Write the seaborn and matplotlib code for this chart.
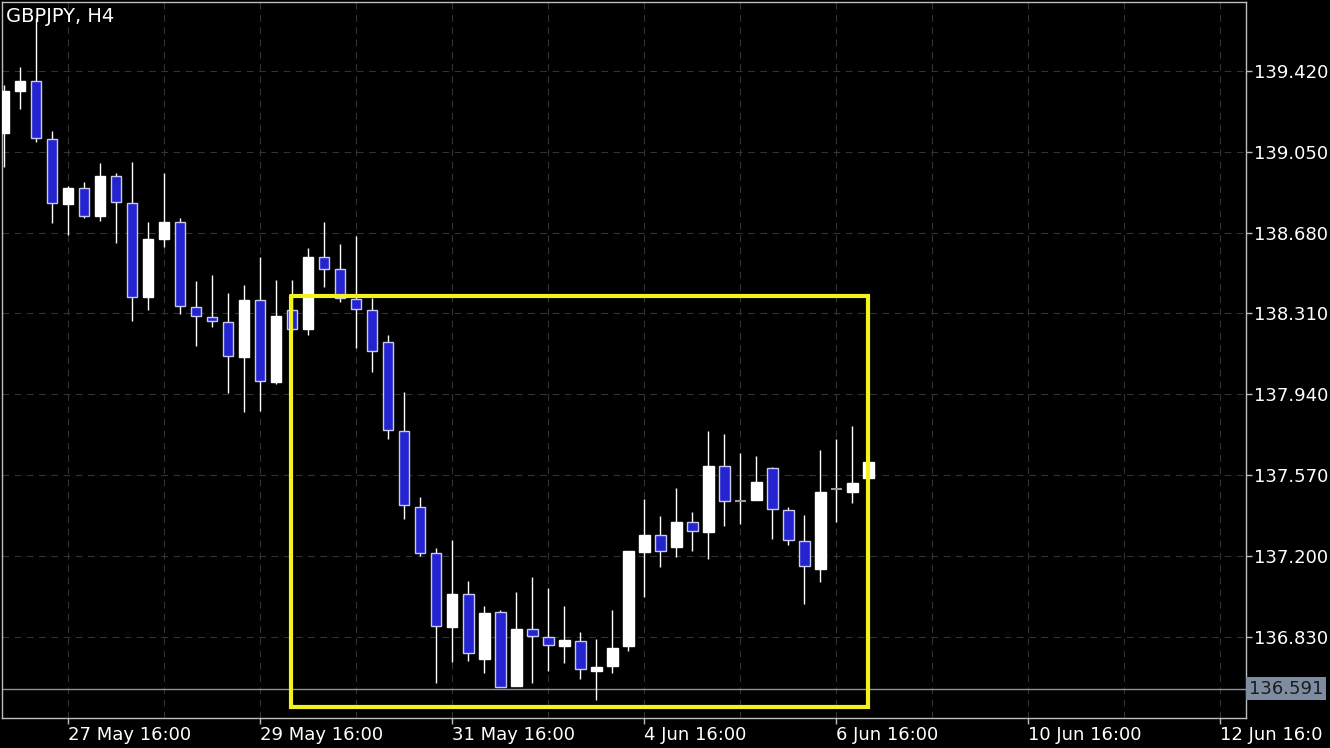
import numpy as np
import pandas as pd
import seaborn as sns
import matplotlib
matplotlib.use("Agg")
import matplotlib.pyplot as plt
from matplotlib.ticker import MultipleLocator, FixedLocator
import matplotlib.transforms as mtransforms

# GBPJPY H4 bars (index 0 = 27 May 00:00)
opens = [139.136, 139.328, 139.374, 139.109, 138.811, 138.884, 138.756, 138.939, 138.816, 138.385,
         138.651, 138.729, 138.339, 138.294, 138.271, 138.110, 138.371, 137.996, 138.326, 138.239,
         138.568, 138.513, 138.376, 138.326, 138.179, 137.772, 137.424, 137.213, 136.874, 137.025,
         136.728, 136.943, 136.604, 136.865, 136.828, 136.787, 136.810, 136.673, 136.696, 136.787,
         137.218, 137.295, 137.240, 137.355, 137.309, 137.611, 137.451, 137.456, 137.602, 137.410,
         137.268, 137.140, 137.506, 137.492, 137.556]
highs = [139.356, 139.438, 139.663, 139.145, 138.893, 138.912, 138.999, 138.953, 139.003, 138.729,
         138.953, 138.747, 138.458, 138.486, 138.403, 138.440, 138.568, 138.463, 138.463, 138.610,
         138.729, 138.628, 138.664, 138.381, 138.211, 137.950, 137.469, 137.236, 137.273, 137.085,
         136.970, 136.952, 137.034, 137.103, 137.053, 136.970, 136.851, 136.819, 136.952, 137.222,
         137.460, 137.382, 137.511, 137.401, 137.772, 137.758, 137.671, 137.657, 137.607, 137.424,
         137.387, 137.685, 137.735, 137.794, 137.648]
lows = [138.980, 139.246, 139.095, 138.724, 138.669, 138.747, 138.733, 138.632, 138.275, 138.326,
        138.614, 138.307, 138.161, 138.248, 137.946, 137.859, 137.863, 137.987, 138.230, 138.211,
        138.431, 138.362, 138.152, 138.042, 137.735, 137.369, 137.199, 136.618, 136.714, 136.718,
        136.663, 136.599, 136.604, 136.618, 136.673, 136.709, 136.636, 136.540, 136.663, 136.764,
        137.012, 137.149, 137.195, 137.222, 137.186, 137.337, 137.346, 137.456, 137.277, 137.250,
        136.980, 137.080, 137.355, 137.442, 137.556]
closes = [139.328, 139.374, 139.113, 138.816, 138.884, 138.756, 138.939, 138.820, 138.385, 138.651,
          138.729, 138.344, 138.298, 138.275, 138.115, 138.371, 138.001, 138.298, 138.239, 138.568,
          138.513, 138.381, 138.330, 138.138, 137.776, 137.433, 137.213, 136.879, 137.025, 136.755,
          136.938, 136.599, 136.865, 136.833, 136.792, 136.815, 136.682, 136.691, 136.778, 137.222,
          137.295, 137.222, 137.355, 137.314, 137.611, 137.451, 137.451, 137.538, 137.414, 137.272,
          137.153, 137.492, 137.506, 137.534, 137.630]

price_ticks = [136.830, 137.200, 137.570, 137.940, 138.310, 138.680, 139.050, 139.420]
date_labels = ["27 May 16:00", "29 May 16:00", "31 May 16:00", "4 Jun 16:00",
               "6 Jun 16:00", "10 Jun 16:00", "12 Jun 16:0"]
date_label_bars = [4, 16, 28, 40, 52, 64, 76]

line_price = 136.591
box_bars = (17.9, 54)
box_prices = (136.508, 138.390)

df = pd.DataFrame({"open": opens, "high": highs, "low": lows, "close": closes})
df["bar"] = np.arange(len(df))
df["kind"] = np.where(df["close"] > df["open"], "bull",
                      np.where(df["close"] < df["open"], "bear", "doji"))

sns.set_theme(style="dark")
plt.rcParams["font.family"] = ["DejaVu Sans"]

fig = plt.figure(figsize=(13.3, 7.48), dpi=100, facecolor="black")
ax = fig.add_axes([2 / 1330, 1 - 718 / 748, 1244 / 1330, 716 / 748])
ax.set_facecolor("black")

# grid (one day = 6 bars)
grid_style = dict(color="#333333", linestyle=(0, (6, 5)), linewidth=0.8)
ax.xaxis.set_minor_locator(MultipleLocator(6, offset=4))
ax.xaxis.set_major_locator(FixedLocator(date_label_bars))
ax.set_xticklabels(date_labels)
ax.grid(which="both", axis="x", **grid_style)
ax.yaxis.tick_right()
ax.set_yticks(price_ticks)
ax.set_yticklabels([f"{p:.3f}" for p in price_ticks])
ax.grid(which="major", axis="y", **grid_style)

# wicks
ax.vlines(df["bar"], df["low"], df["high"], color="white", linewidth=1.0, zorder=2)

# bodies
w = 0.65
bull = df[df["kind"] == "bull"]
bear = df[df["kind"] == "bear"]
doji = df[df["kind"] == "doji"]
ax.bar(bull["bar"], bull["close"] - bull["open"], bottom=bull["open"], width=w,
       color="white", edgecolor="white", linewidth=1.0, zorder=3)
ax.bar(bear["bar"], bear["open"] - bear["close"], bottom=bear["close"], width=w,
       color="#2323cf", edgecolor="#c9c9ee", linewidth=1.0, zorder=3)
ax.hlines(doji["close"], doji["bar"] - w / 2, doji["bar"] + w / 2, color="#9a9a9a",
          linewidth=1.5, zorder=3)

# price line and yellow rectangle
ax.axhline(line_price, color="#8592a8", linewidth=1.0, zorder=1)
ax.plot([box_bars[0], box_bars[1], box_bars[1], box_bars[0], box_bars[0]],
        [box_prices[1], box_prices[1], box_prices[0], box_prices[0], box_prices[1]],
        color="#f2f21e", linewidth=3.0, solid_joinstyle="miter", zorder=5)

ax.set_xlim(-0.14, 77.6)
ax.set_ylim(136.457, 139.736)

for s in ax.spines.values():
    s.set_visible(True)
    s.set_color("#bdbdbd")
    s.set_linewidth(1.0)

ax.tick_params(axis="x", which="major", colors="#bdbdbd", labelcolor="white",
               length=4, width=1, pad=2, labelsize=13, direction="out", bottom=True)
ax.tick_params(axis="x", which="minor", length=0)
ax.tick_params(axis="y", colors="#bdbdbd", labelcolor="white", length=4, width=1,
               pad=2, labelsize=13, direction="out", right=True, left=False)
for lbl in ax.get_xticklabels():
    lbl.set_horizontalalignment("left")

# current price tag
trans = mtransforms.blended_transform_factory(ax.transAxes, ax.transData)
ax.text(1.0025, line_price, f"{line_price:.3f}", transform=trans, ha="left", va="center",
        fontsize=13, color="#1c1c1c", clip_on=False,
        bbox=dict(boxstyle="square,pad=0.15", facecolor="#7d8ca0", edgecolor="none"))

fig.text(6 / 1330, 1 - 17 / 748, "GBPJPY, H4", color="white", fontsize=14,
         ha="left", va="center")

fig.savefig("out.png", dpi=100, facecolor="black")
